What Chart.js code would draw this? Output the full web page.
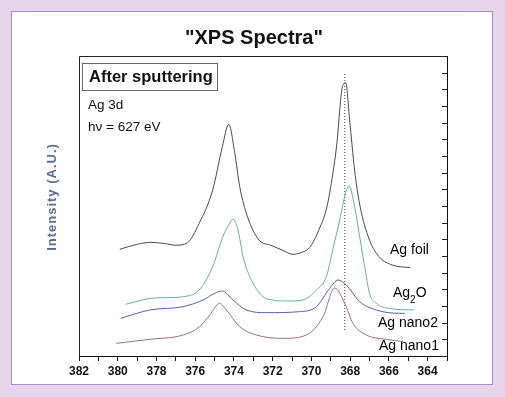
<!DOCTYPE html>
<html>
<head>
<meta charset="utf-8">
<script src="https://cdn.jsdelivr.net/npm/chart.js@4/dist/chart.umd.min.js"></script>
<style>
body { margin: 0; background: #e7d6eb; }
#panel { position: absolute; left: 11px; top: 11px; width: 480px; height: 372px; background: #fff; border: 1px solid #aa8cc6; }
canvas { position: absolute; left: 0; top: 0; }
</style>
</head>
<body>
<div id="panel"></div>
<canvas id="miGrafico" width="505" height="397"></canvas>
<script>
// energia de enlace (eV) e intensidad (u.a.)
const foilX = [379.9, 379.0, 378.3, 377.6, 377.0, 376.4, 375.8, 375.1, 374.6, 374.27, 373.96, 373.7, 373.3, 372.7, 372.1, 371.5, 370.95, 370.5, 370.1, 369.6, 369.2, 368.9, 368.7, 368.4, 368.23, 368.03, 367.77, 367.5, 367.0, 366.5, 365.8, 364.9]
const foilY = [6.4, 6.7, 6.82, 6.75, 6.65, 6.8, 7.95, 9.95, 12.55, 13.9, 12.2, 10.15, 8.35, 6.95, 6.65, 6.35, 6.1, 6.22, 6.5, 7.6, 8.95, 10.9, 12.6, 16.15, 16.4, 14.2, 11.15, 9.05, 6.95, 5.95, 5.45, 5.3]

const ag2oX = [379.6, 378.35, 377.5, 376.6, 375.8, 375.1, 374.57, 374.22, 374.05, 373.79, 373.53, 373.1, 372.5, 372.0, 371.2, 370.44, 369.74, 369.23, 368.9, 368.54, 368.25, 368.06, 367.77, 367.51, 367.25, 367.0, 366.65, 366.0, 364.7]
const ag2oY = [3.1, 3.45, 3.5, 3.56, 3.96, 5.36, 7.16, 7.96, 8.2, 7.56, 5.96, 4.56, 3.56, 3.36, 3.3, 3.36, 3.96, 4.76, 6.36, 8.16, 9.7, 10.2, 8.96, 7.16, 5.36, 3.76, 3.16, 2.86, 2.76]

const nano2X = [379.85, 378.35, 376.63, 375.6, 375.0, 374.6, 374.05, 373.36, 372.33, 370.61, 369.74, 369.06, 368.63, 368.2, 367.51, 366.65, 365.45, 365.19]
const nano2Y = [2.26, 2.76, 2.96, 3.36, 3.76, 3.9, 3.36, 2.76, 2.6, 2.66, 2.96, 4.06, 4.56, 4.26, 3.26, 2.76, 2.56, 2.56]

const nano1X = [380.07, 378.35, 376.63, 375.77, 375.25, 374.74, 374.39, 373.7, 372.84, 371.47, 370.26, 369.4, 368.8, 368.28, 367.86, 367.16, 366.13, 365.27]
const nano1Y = [0.76, 1.0, 1.26, 1.76, 2.46, 3.16, 2.76, 1.76, 1.26, 1.06, 1.26, 2.36, 4.08, 3.16, 1.96, 1.26, 1.0, 0.86]

const lineaX = [368.28, 368.28]
const lineaY = [1.56, 16.98]

const etiquetasX = [382, 380, 378, 376, 374, 372, 370, 368, 366, 364]
const nombres = ['Ag foil', 'Ag2O', 'Ag nano2', 'Ag nano1']

const puntos = (xs, ys) => xs.map((x, i) => ({ x: x, y: ys[i] }))

const serie = (label, xs, ys, color) => ({
    label: label,
    data: puntos(xs, ys),
    borderColor: color,
    borderWidth: 1,
    pointRadius: 0,
    fill: false,
    cubicInterpolationMode: 'monotone'
})

const decoracion = {
    id: 'decoracion',
    afterDraw(chart) {
        const ctx = chart.ctx
        const a = chart.chartArea
        const y = chart.scales.y
        ctx.save()

        // marco superior e izquierdo
        ctx.strokeStyle = '#222'
        ctx.lineWidth = 1
        ctx.beginPath()
        ctx.moveTo(a.left + 0.5, a.bottom)
        ctx.lineTo(a.left + 0.5, a.top + 0.5)
        ctx.lineTo(a.right, a.top + 0.5)
        ctx.stroke()

        // ticks del eje derecho hacia dentro
        ctx.beginPath()
        for (let v = 0; v <= 18; v++) {
            const py = Math.round(y.getPixelForValue(v)) + 0.5
            ctx.moveTo(a.right - 5, py)
            ctx.lineTo(a.right, py)
        }
        ctx.stroke()

        // titulo
        ctx.fillStyle = '#111'
        ctx.textAlign = 'center'
        ctx.textBaseline = 'middle'
        ctx.font = 'bold 20px Arial'
        ctx.fillText('"XPS Spectra"', 254, 38)

        // recuadro
        ctx.strokeStyle = '#666'
        ctx.strokeRect(82.5, 63.5, 135, 27)
        ctx.textAlign = 'left'
        ctx.font = 'bold 16.5px Arial'
        ctx.fillText('After sputtering', 89, 77)

        ctx.font = '13.5px Arial'
        ctx.fillText('Ag 3d', 88, 105)
        ctx.fillText('h\u03bd = 627 eV', 88, 127)

        // nombres de las series
        ctx.fillStyle = '#000'
        ctx.font = '14px Arial'
        ctx.fillText(nombres[0], 390, 250)
        let x0 = 393
        ctx.fillText('Ag', x0, 293)
        x0 += ctx.measureText('Ag').width
        ctx.font = '10px Arial'
        ctx.fillText('2', x0, 300)
        x0 += ctx.measureText('2').width
        ctx.font = '14px Arial'
        ctx.fillText('O', x0, 293)
        ctx.fillText(nombres[2], 378, 323)
        ctx.fillText(nombres[3], 379, 346)

        // titulo eje y
        ctx.translate(52, 197)
        ctx.rotate(-Math.PI / 2)
        ctx.textAlign = 'center'
        ctx.fillStyle = '#5b6b93'
        ctx.font = 'bold 13px Arial'
        ctx.letterSpacing = '1px'
        ctx.fillText('Intensity (A.U.)', 0, 0)
        ctx.restore()
    }
}

const miGrafico = new Chart(document.getElementById('miGrafico').getContext('2d'), {
    type: 'line',
    data: {
        datasets: [
            serie(nombres[0], foilX, foilY, '#4a4a4a'),
            serie(nombres[1], ag2oX, ag2oY, '#62b491'),
            serie(nombres[2], nano2X, nano2Y, '#5c5cb4'),
            serie(nombres[3], nano1X, nano1Y, '#a06c78'),
            {
                label: 'linea',
                data: puntos(lineaX, lineaY),
                borderColor: '#444',
                borderWidth: 1,
                borderDash: [1, 2],
                pointRadius: 0
            }
        ]
    },
    options: {
        responsive: false,
        animation: false,
        layout: { padding: { left: 79, top: 56, right: 0, bottom: 0 } },
        plugins: { legend: { display: false }, tooltip: { enabled: false } },
        scales: {
            x: {
                type: 'linear',
                reverse: true,
                min: 363,
                max: 382,
                border: { display: true, color: '#111', width: 1 },
                grid: { drawOnChartArea: false, drawTicks: true, tickLength: 5, color: '#111' },
                ticks: {
                    stepSize: 1,
                    autoSkip: false,
                    maxRotation: 0,
                    padding: 3,
                    color: '#111',
                    font: { family: 'Arial', size: 12, weight: 'bold' },
                    callback: value => etiquetasX.includes(value) ? String(value) : ''
                },
                afterFit: s => { s.height = 41 }
            },
            y: {
                type: 'linear',
                position: 'right',
                min: 0,
                max: 18,
                border: { display: true, color: '#111', width: 1 },
                grid: { display: false },
                ticks: { display: false },
                afterFit: s => { s.width = 58 }
            }
        }
    },
    plugins: [decoracion]
})
</script>
</body>
</html>
